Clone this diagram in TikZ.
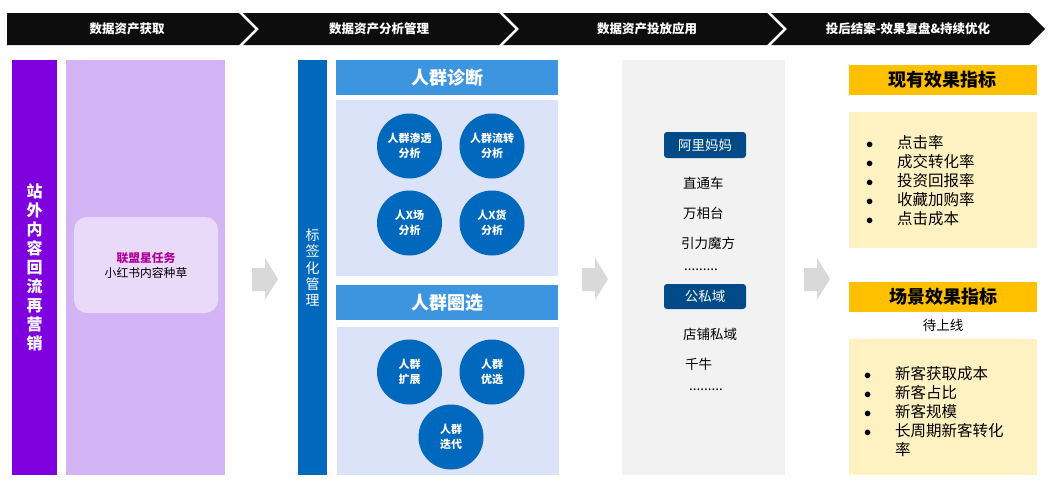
\documentclass[tikz,border=0pt]{standalone}
\usepackage{fontspec}
\setmainfont{Noto Sans CJK SC}
\usetikzlibrary{calc}
\usetikzlibrary{positioning}
\definecolor{hdrblack}{HTML}{0D0D0D}
\definecolor{violetbar}{HTML}{7F00DF}
\definecolor{lilac}{HTML}{D3B5F5}
\definecolor{lilaclight}{HTML}{E9DAF9}
\definecolor{magentatxt}{HTML}{B0009C}
\definecolor{bluebar}{HTML}{0068BD}
\definecolor{skyhead}{HTML}{3D95E0}
\definecolor{paleblue}{HTML}{DAE3F7}
\definecolor{navytag}{HTML}{004A87}
\definecolor{palegray}{HTML}{F2F2F2}
\definecolor{arrowgray}{HTML}{D9D9D9}
\definecolor{amber}{HTML}{FFC000}
\definecolor{cream}{HTML}{FFF2C2}
\tikzstyle{panel} = [rectangle, inner sep=0, outer sep=0]
\tikzstyle{stagetext} = [text=white, font=\bfseries\fontsize{12.5}{14}\selectfont]
\tikzstyle{vbartext} = [text=white, align=center]
\tikzstyle{bluehead} = [panel, fill=skyhead, minimum width=222, minimum height=35, text=white, font=\bfseries\fontsize{18}{20}\selectfont]
\tikzstyle{crowdnode} = [circle, fill=bluebar, minimum size=65, inner sep=0, text=white, align=center, font=\bfseries\fontsize{11}{15}\selectfont]
\tikzstyle{channeltag} = [panel, fill=navytag, rounded corners=3, minimum width=82, minimum height=26, text=white, font=\fontsize{13.5}{15}\selectfont]
\tikzstyle{channelitem} = [anchor=west, inner sep=0, font=\fontsize{13.5}{15}\selectfont]
\tikzstyle{amberhead} = [panel, fill=amber, minimum width=188, minimum height=30, font=\bfseries\fontsize{18}{20}\selectfont]
\tikzstyle{bulletlist} = [anchor=west, inner sep=0, align=left, font=\fontsize{15.5}{19}\selectfont]

\begin{document}
\begin{tikzpicture}[x=1pt, y=-1pt]
    \useasboundingbox (0,0) rectangle (1057,483);
    \fill[hdrblack] (7,13) -- (239,13) -- (255,29) -- (239,45) -- (7,45) -- cycle;
    \fill[hdrblack] (243,13) -- (499,13) -- (515,29) -- (499,45) -- (243,45) -- (259,29) -- cycle;
    \fill[hdrblack] (503,13) -- (767,13) -- (783,29) -- (767,45) -- (503,45) -- (519,29) -- cycle;
    \fill[hdrblack] (771,13) -- (1029,13) -- (1045,29) -- (1029,45) -- (771,45) -- (787,29) -- cycle;
    \node[stagetext] (stage_acquire) at (127,29) {数据资产获取};
    \node[stagetext] (stage_manage) at (379,29) {数据资产分析管理};
    \node[stagetext] (stage_apply) at (647,29) {数据资产投放应用};
    \node[stagetext] (stage_review) at (908,29) {投后结案-效果复盘\&持续优化};

    \node[panel, vbartext, fill=violetbar, minimum width=45, minimum height=415, font=\bfseries\fontsize{16}{19.1}\selectfont] (acq_bar) at (34.5,267.5) {站\\外\\内\\容\\回\\流\\再\\营\\销};
    \node[panel, fill=lilac, minimum width=159, minimum height=415] (acq_panel) at (145.5,267.5) {};
    \node[panel, fill=lilaclight, rounded corners=13, minimum width=144, minimum height=96, align=center, font=\fontsize{11.8}{15}\selectfont] (acq_task) at (146,265) {\textcolor{magentatxt}{\bfseries 联盟星任务}\\小红书内容种草};

    \foreach \ax in {252,582,804}
        \fill[arrowgray] (\ax,268) -- ($(\ax,268)+(13,0)$) -- ($(\ax,258)+(13,0)$) -- ($(\ax,279)+(26,0)$) -- ($(\ax,300)+(13,0)$) -- ($(\ax,291)+(13,0)$) -- (\ax,291) -- cycle;

    \node[panel, vbartext, fill=bluebar, minimum width=29, minimum height=415, font=\fontsize{14}{16.3}\selectfont] (tag_bar) at (312.5,267.5) {标\\签\\化\\管\\理};
    \node[bluehead] (diag_head) at (447,77.5) {人群诊断};
    \node[panel, fill=paleblue, minimum width=222, minimum height=176] (diag_panel) at (447,188) {};
    \node[crowdnode] (diag_pen) at (409.5,146) {人群渗透\\分析};
    \node[crowdnode] (diag_flow) at (492,146) {人群流转\\分析};
    \node[crowdnode] (diag_scene) at (409.5,223) {人X场\\分析};
    \node[crowdnode] (diag_goods) at (492,223) {人X货\\分析};
    \node[bluehead] (pick_head) at (447,302.5) {人群圈选};
    \node[panel, fill=paleblue, minimum width=222, minimum height=148] (pick_panel) at (448,401) {};
    \node[crowdnode] (pick_expand) at (409.5,372) {人群\\扩展};
    \node[crowdnode] (pick_best) at (492,372) {人群\\优选};
    \node[crowdnode] (pick_iter) at (451,437) {人群\\迭代};

    \node[panel, fill=palegray, minimum width=163, minimum height=415] (apply_panel) at (703.5,267.5) {};
    \node[channeltag] (tag_alimama) at (705,145) {阿里妈妈};
    \node[channelitem] (item_ztc) at (683,183) {直通车};
    \node[channelitem] (item_wxt) at (683,213) {万相台};
    \node[channelitem] (item_ylmf) at (681,243) {引力魔方};
    \node[channelitem] (item_dots_a) at (684,270) {.........};
    \node[channeltag, minimum height=25] (tag_domain) at (705,296.5) {公私域};
    \node[channelitem] (item_shop) at (683,334) {店铺私域};
    \node[channelitem] (item_qn) at (685,364) {千牛};
    \node[channelitem] (item_dots_b) at (689,390) {.........};

    \node[amberhead] (kpi_head) at (942.5,80) {现有效果指标};
    \node[panel, fill=cream, minimum width=188, minimum height=136] (kpi_box) at (943,180) {};
    \node[bulletlist] (kpi_list) at (866,181) {\makebox[31pt][l]{$\bullet$}点击率\\\makebox[31pt][l]{$\bullet$}成交转化率\\\makebox[31pt][l]{$\bullet$}投资回报率\\\makebox[31pt][l]{$\bullet$}收藏加购率\\\makebox[31pt][l]{$\bullet$}点击成本};
    \node[amberhead] (scene_head) at (943,297) {场景效果指标};
    \node[font=\fontsize{13.5}{15}\selectfont] (scene_wait) at (943,325) {待上线};
    \node[panel, fill=cream, minimum width=188, minimum height=136] (scene_box) at (943,407) {};
    \node[bulletlist] (scene_list) at (864,412) {\makebox[31pt][l]{$\bullet$}新客获取成本\\\makebox[31pt][l]{$\bullet$}新客占比\\\makebox[31pt][l]{$\bullet$}新客规模\\\makebox[31pt][l]{$\bullet$}长周期新客转化\\\makebox[31pt][l]{}率};
\end{tikzpicture}
\end{document}
